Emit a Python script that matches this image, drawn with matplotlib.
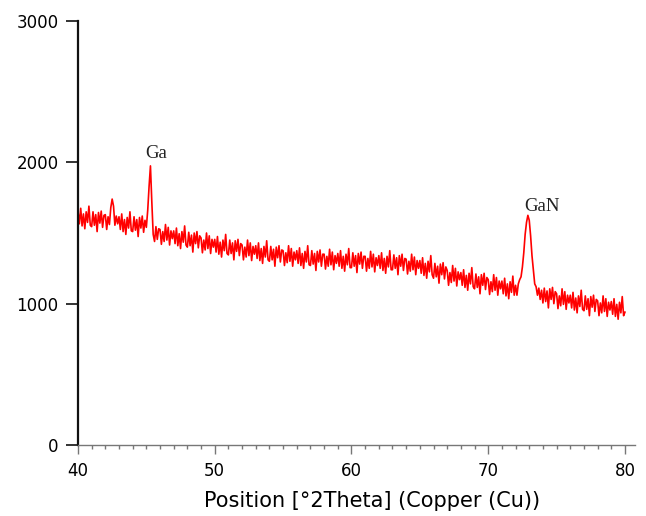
import numpy as np
import matplotlib
matplotlib.use("Agg")
import matplotlib.pyplot as plt
from matplotlib.ticker import MultipleLocator

# 2theta grid, 0.1 deg steps from 40 to 80
two_theta = np.round(np.arange(400, 801) / 10.0, 1)

# intensity, one row per degree
intensity = [
    1655, 1565, 1675, 1550, 1635, 1530, 1650, 1575, 1690, 1555,   # 40
    1545, 1650, 1555, 1630, 1510, 1645, 1570, 1655, 1540, 1625,   # 41
    1630, 1525, 1615, 1560, 1680, 1740, 1690, 1555, 1620, 1565,   # 42
    1615, 1525, 1635, 1510, 1595, 1490, 1610, 1535, 1650, 1515,   # 43
    1510, 1615, 1520, 1595, 1475, 1610, 1535, 1620, 1505, 1590,   # 44
    1540, 1660, 1830, 1975, 1720, 1490, 1440, 1545, 1455, 1530,   # 45
    1525, 1420, 1510, 1440, 1560, 1450, 1540, 1415, 1515, 1460,   # 46
    1515, 1425, 1535, 1410, 1495, 1390, 1510, 1435, 1550, 1415,   # 47
    1400, 1505, 1410, 1485, 1365, 1500, 1425, 1510, 1395, 1480,   # 48
    1465, 1360, 1450, 1380, 1500, 1390, 1480, 1355, 1455, 1400,   # 49
    1455, 1365, 1475, 1350, 1435, 1330, 1450, 1375, 1490, 1355,   # 50
    1345, 1450, 1355, 1430, 1310, 1445, 1370, 1455, 1340, 1425,   # 51
    1415, 1310, 1400, 1330, 1450, 1340, 1430, 1305, 1405, 1350,   # 52
    1410, 1320, 1430, 1305, 1390, 1285, 1405, 1330, 1445, 1310,   # 53
    1300, 1405, 1310, 1385, 1265, 1400, 1325, 1410, 1295, 1380,   # 54
    1375, 1270, 1360, 1290, 1410, 1300, 1390, 1265, 1365, 1310,   # 55
    1375, 1285, 1395, 1270, 1355, 1250, 1370, 1295, 1410, 1275,   # 56
    1270, 1375, 1280, 1355, 1235, 1370, 1295, 1380, 1265, 1350,   # 57
    1350, 1245, 1335, 1265, 1385, 1275, 1365, 1240, 1340, 1285,   # 58
    1355, 1265, 1375, 1250, 1335, 1230, 1350, 1275, 1390, 1255,   # 59
    1255, 1360, 1265, 1340, 1220, 1355, 1280, 1365, 1250, 1335,   # 60
    1335, 1230, 1320, 1250, 1370, 1260, 1350, 1225, 1325, 1270,   # 61
    1340, 1250, 1360, 1235, 1320, 1215, 1335, 1260, 1375, 1240,   # 62
    1240, 1345, 1250, 1325, 1205, 1340, 1265, 1350, 1235, 1320,   # 63
    1315, 1210, 1300, 1230, 1350, 1240, 1330, 1205, 1305, 1250,   # 64
    1305, 1215, 1325, 1200, 1285, 1180, 1300, 1225, 1340, 1205,   # 65
    1180, 1285, 1190, 1265, 1145, 1280, 1205, 1290, 1175, 1260,   # 66
    1235, 1130, 1220, 1150, 1270, 1160, 1250, 1125, 1225, 1170,   # 67
    1220, 1130, 1240, 1115, 1200, 1095, 1215, 1140, 1255, 1120,   # 68
    1105, 1210, 1115, 1190, 1070, 1205, 1130, 1215, 1100, 1185,   # 69
    1170, 1065, 1155, 1085, 1205, 1095, 1185, 1060, 1160, 1105,   # 70
    1160, 1070, 1180, 1055, 1140, 1035, 1155, 1080, 1195, 1060,   # 71
    1130, 1060, 1140, 1170, 1190, 1260, 1360, 1490, 1575, 1625,   # 72
    1590, 1480, 1340, 1240, 1140, 1120, 1060, 1110, 1030, 1095,   # 73
    1005, 1110, 1015, 1090, 970, 1105, 1030, 1115, 1000, 1085,    # 74
    1070, 965, 1055, 985, 1105, 995, 1085, 960, 1060, 1005,       # 75
    1060, 970, 1080, 955, 1040, 935, 1055, 980, 1095, 960,        # 76
    950, 1055, 960, 1035, 915, 1050, 975, 1060, 945, 1030,        # 77
    1020, 915, 1005, 935, 1055, 945, 1035, 910, 1010, 955,        # 78
    1015, 925, 1035, 910, 995, 890, 1010, 935, 1050, 915,         # 79
    940,                                                          # 80
]

peak_labels = ['Ga', 'GaN']
peak_label_x = [45.7, 73.9]
peak_label_y = [2066, 1684]

fig = plt.figure(figsize=(6.46, 5.16), dpi=100)
ax = fig.add_axes([0.1207, 0.1376, 0.8622, 0.8217])

ax.plot(two_theta, intensity, color='#ff0000', lw=1.2)

for lab, lx, ly in zip(peak_labels, peak_label_x, peak_label_y):
    ax.text(lx, ly, lab, ha='center', va='center', fontsize=13.5,
            family='Liberation Serif', color='#222222')

ax.set_xlim(40, 80.73)
ax.set_ylim(0, 3000)
ax.set_xticks([40, 50, 60, 70, 80])
ax.xaxis.set_minor_locator(MultipleLocator(1))
ax.set_yticks([0, 1000, 2000, 3000])

ax.spines['top'].set_visible(False)
ax.spines['right'].set_visible(False)
ax.spines['left'].set_linewidth(1.6)
ax.spines['left'].set_color('#111111')
ax.spines['bottom'].set_linewidth(1.0)
ax.spines['bottom'].set_color('#777777')

ax.tick_params(axis='y', which='major', length=9, width=1.4, color='#333333',
               pad=5, labelsize=12)
ax.tick_params(axis='x', which='major', length=6.5, width=1.0, color='#777777',
               pad=6, labelsize=12)
ax.tick_params(axis='x', which='minor', length=3, width=1.0, color='#777777')

ax.set_xlabel('Position [°2Theta] (Copper (Cu))', fontsize=15)
ax.xaxis.set_label_coords(0.528, -0.108)

fig.savefig('out.png', dpi=100)
